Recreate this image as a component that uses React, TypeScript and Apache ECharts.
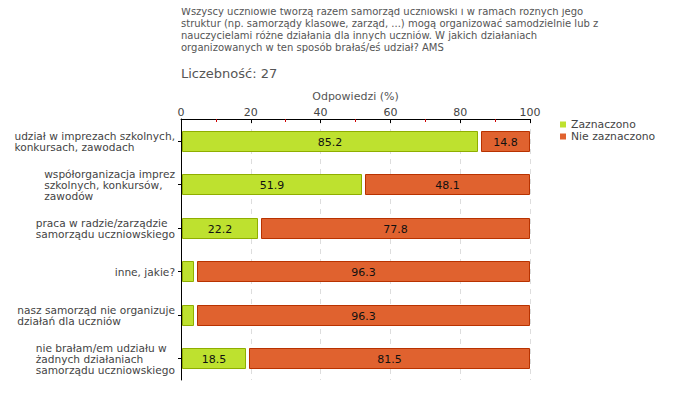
import React, { useEffect, useRef } from "react";
import * as echarts from "echarts";

const categories = [
  "udział w imprezach szkolnych,\nkonkursach, zawodach",
  "współorganizacja imprez\nszkolnych, konkursów,\nzawodów",
  "praca w radzie/zarządzie\nsamorządu uczniowskiego",
  "inne, jakie?",
  "nasz samorząd nie organizuje\ndziałań dla uczniów",
  "nie brałam/em udziału w\nżadnych działaniach\nsamorządu uczniowskiego",
];
const zaznaczono = [85.2, 51.9, 22.2, 3.7, 3.7, 18.5];
const nieZaznaczono = [14.8, 48.1, 77.8, 96.3, 96.3, 81.5];
const seriesNames = ["Zaznaczono", "Nie zaznaczono"];
const titleLines = [
  "Wszyscy uczniowie tworzą razem samorząd uczniowski i w ramach różnych jego",
  "struktur (np. samorządy klasowe, zarząd, ...) mogą organizować samodzielnie lub z",
  "nauczycielami różne działania dla innych uczniów. W jakich działaniach",
  "organizowanych w ten sposób brałaś/eś udział? AMS",
];
const countLabel = "Liczebność: 27";

const FONT = "DejaVu Sans";
const LABEL_FONT = `10.6px "${FONT}"`;
const GREEN = "#bee12f";
const GREEN_B = "#8fae00";
const ORANGE = "#e0622f";
const ORANGE_B = "#b83200";

export default function App() {
  const ref = useRef<HTMLDivElement>(null);
  useEffect(() => {
    const chart = echarts.init(ref.current!, null, { renderer: "svg" });
    const segData = (k: number) =>
      categories.map((_, i) =>
        k === 0
          ? [0, zaznaczono[i], i, zaznaczono[i]]
          : [zaznaczono[i], zaznaczono[i] + nieZaznaczono[i], i, nieZaznaczono[i]]
      );
    const makeRender = (k: number) => (params: any, api: any) => {
      const s = api.coord([api.value(0), api.value(2)]);
      const e = api.coord([api.value(1), api.value(2)]);
      const h = 20;
      const x0 = Math.round(s[0]) + (k === 0 ? 1.5 : 3.5);
      const x1 = Math.round(e[0]) - 0.5;
      const y0 = Math.round(s[1] - h / 2) + 0.5;
      const v = api.value(3);
      const children: any[] = [
        {
          type: "rect",
          shape: { x: x0, y: y0, width: Math.max(x1 - x0, 1), height: h },
          style: { fill: k === 0 ? GREEN : ORANGE, stroke: k === 0 ? GREEN_B : ORANGE_B, lineWidth: 1 },
        },
      ];
      if (v >= 10) {
        children.push({
          type: "text",
          style: {
            text: v.toFixed(1),
            x: (x0 + x1) / 2,
            y: y0 + h / 2 + 0.5,
            align: "center",
            verticalAlign: "middle",
            font: `11px "${FONT}"`,
            fill: "#111",
          },
        });
      }
      return { type: "group", children };
    };
    const headerGraphics = [
      ...titleLines.map((t, i) => ({
        type: "text",
        left: 181,
        top: 6 + i * 12,
        style: { text: t, font: `10px "${FONT}"`, fill: "#555" },
      })),
      {
        type: "text",
        left: 181,
        top: 67,
        style: { text: countLabel, font: `13px "${FONT}"`, fill: "#555" },
      },
    ];
    chart.setOption({
      animation: false,
      textStyle: { fontFamily: FONT },
      graphic: headerGraphics,
      legend: {
        orient: "vertical",
        left: 555,
        top: 114,
        icon: "rect",
        itemWidth: 6,
        itemHeight: 6,
        itemGap: 1,
        textStyle: { fontFamily: FONT, fontSize: 10.8, lineHeight: 11, color: "#444", padding: [0, 0, 0, 0] },
        data: seriesNames,
      },
      grid: { left: 181, top: 119, width: 349, height: 261 },
      xAxis: {
        type: "value",
        position: "top",
        min: 0,
        max: 100,
        interval: 20,
        name: "Odpowiedzi (%)",
        nameLocation: "middle",
        nameGap: 14,
        nameTextStyle: { fontFamily: FONT, fontSize: 11, color: "#555" },
        axisLine: { show: true, lineStyle: { color: "#000", width: 1 } },
        axisTick: { show: true, inside: true, length: 4, lineStyle: { color: "#000" } },
        minorTick: { show: true, splitNumber: 2, length: 3, lineStyle: { color: "#d00000" } },
        axisLabel: { fontFamily: FONT, fontSize: 11, color: "#444", margin: 1 },
        splitLine: { show: true, lineStyle: { color: "#ddd", type: [5, 5] } },
      },
      yAxis: {
        type: "category",
        inverse: true,
        data: categories,
        axisLine: { show: true, lineStyle: { color: "#000", width: 1 } },
        axisTick: { show: true, alignWithLabel: true, length: 3, lineStyle: { color: "#000" } },
        axisLabel: { show: false },
        splitLine: { show: false },
      },
      series: [0, 1].map((k) => ({
        type: "custom",
        name: seriesNames[k],
        itemStyle: { color: k === 0 ? GREEN : ORANGE },
        encode: { x: [0, 1], y: 2 },
        data: segData(k),
        renderItem: makeRender(k),
      })),
    });
    // category labels: left-aligned lines in a block right-aligned to the axis
    const ctx = document.createElement("canvas").getContext("2d")!;
    ctx.font = LABEL_FONT;
    const labelGraphics = categories.map((c, i) => {
      const lines = c.split("\n");
      const w = Math.max(...lines.map((l) => ctx.measureText(l).width));
      const cy = chart.convertToPixel({ yAxisIndex: 0 }, i) as number;
      return {
        type: "text",
        x: 175 - w,
        y: cy + 0.5,
        style: {
          text: c,
          font: LABEL_FONT,
          fill: "#444",
          align: "left",
          verticalAlign: "middle",
          lineHeight: 11,
        },
      };
    });
    chart.setOption({ graphic: [...headerGraphics, ...labelGraphics] });
    return () => chart.dispose();
  }, []);
  return <div ref={ref} style={{ width: 680, height: 400, margin: -8 }} />;
}
